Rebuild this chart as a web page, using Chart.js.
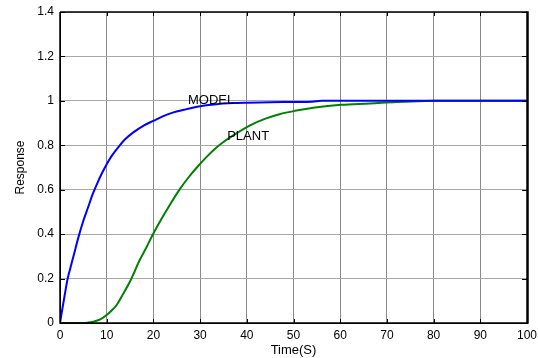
<!DOCTYPE html>
<html>
<head>
<meta charset="utf-8">
<script src="https://cdn.jsdelivr.net/npm/chart.js@4/dist/chart.umd.min.js"></script>
<style>
html,body{margin:0;padding:0;background:#fff;}
#wrap{width:538px;height:358px;position:relative;}
</style>
</head>
<body>
<div id="wrap"><canvas id="c" width="538" height="358"></canvas></div>
<script>
// ---- data ----
const modelTime  = [0, 1, 1.6, 2, 3, 4, 5, 6, 7, 8, 9, 10, 11, 12.8, 14, 15.7, 18, 20, 22, 24.3, 26.6, 28, 30, 33, 37, 40, 45, 54, 56, 100];
const modelValue = [0, 0.125, 0.196, 0.23, 0.31, 0.39, 0.46, 0.52, 0.58, 0.63, 0.675, 0.715, 0.75, 0.80, 0.828, 0.858, 0.89, 0.91, 0.93, 0.948, 0.96, 0.967, 0.976, 0.984, 0.99, 0.992, 0.994, 0.996, 1.0, 1.0];
const plantTime  = [0, 5, 6, 7.1, 8.5, 10, 11, 12.1, 13.5, 15.2, 17, 18.5, 19.8, 21.5, 23.6, 25.7, 27.5, 29.3, 31.5, 33.5, 35, 37.1, 40.7, 44, 47, 50.3, 54.6, 60.2, 66.4, 72, 78, 80, 100];
const plantValue = [0, 0, 0.002, 0.006, 0.015, 0.036, 0.055, 0.08, 0.13, 0.196, 0.28, 0.34, 0.395, 0.46, 0.535, 0.604, 0.655, 0.70, 0.75, 0.79, 0.815, 0.845, 0.89, 0.92, 0.94, 0.955, 0.97, 0.982, 0.988, 0.995, 0.999, 1.0, 1.0];
const xTickLabels = ['0', '10', '20', '30', '40', '50', '60', '70', '80', '90', '100'];
const yTickLabels = ['0', '0.2', '0.4', '0.6', '0.8', '1', '1.2', '1.4'];
const seriesNames = ['MODEL', 'PLANT'];
const xTitle = 'Time(S)';
const yTitle = 'Response';

// text label anchors (data coordinates)
const labelAnchors = [
  {text: seriesNames[0], x: 27.4, y: 1.0},
  {text: seriesNames[1], x: 35.8, y: 0.838}
];

const toPts = (xs, ys) => xs.map((x, i) => ({x: x, y: ys[i]}));

const frame = {
  id: 'frame',
  afterDatasetsDraw(chart) {
    const ctx = chart.ctx;
    const a = chart.chartArea;
    const xs = chart.scales.x, ys = chart.scales.y;
    ctx.save();
    ctx.strokeStyle = '#000';
    ctx.lineWidth = 1.5;
    ctx.beginPath(); ctx.moveTo(a.left, a.top); ctx.lineTo(a.right, a.top); ctx.stroke();
    ctx.beginPath(); ctx.moveTo(a.left, a.top); ctx.lineTo(a.left, a.bottom); ctx.lineTo(a.right, a.bottom); ctx.stroke();
    ctx.lineWidth = 2.5;
    ctx.beginPath(); ctx.moveTo(a.right + 0.5, a.top - 0.75); ctx.lineTo(a.right + 0.5, a.bottom + 0.75); ctx.stroke();
    ctx.lineWidth = 1;
    ctx.beginPath();
    xs.ticks.forEach(t => {
      const px = Math.round(xs.getPixelForValue(t.value)) + 0.5;
      ctx.moveTo(px, a.bottom); ctx.lineTo(px, a.bottom - 4);
      ctx.moveTo(px, a.top); ctx.lineTo(px, a.top + 4);
    });
    ys.ticks.forEach(t => {
      const py = Math.round(ys.getPixelForValue(t.value)) + 0.5;
      ctx.moveTo(a.left, py); ctx.lineTo(a.left + 5, py);
      ctx.moveTo(a.right, py); ctx.lineTo(a.right - 5, py);
    });
    ctx.stroke();
    ctx.fillStyle = '#000';
    ctx.font = '13px "Liberation Sans", Arial, sans-serif';
    ctx.textAlign = 'left';
    ctx.textBaseline = 'middle';
    labelAnchors.forEach(l => {
      ctx.fillText(l.text, xs.getPixelForValue(l.x), ys.getPixelForValue(l.y));
    });
    ctx.restore();
  }
};

const tickFont = {family: '"Liberation Sans", Arial, sans-serif', size: 12};

new Chart(document.getElementById('c'), {
  type: 'line',
  data: {
    datasets: [
      {label: seriesNames[0], data: toPts(modelTime, modelValue), borderColor: '#0000ff', borderWidth: 2, pointRadius: 0, cubicInterpolationMode: 'monotone', fill: false},
      {label: seriesNames[1], data: toPts(plantTime, plantValue), borderColor: '#008000', borderWidth: 2, pointRadius: 0, cubicInterpolationMode: 'monotone', fill: false}
    ]
  },
  options: {
    responsive: false,
    animation: false,
    devicePixelRatio: 1,
    layout: {padding: {left: 0, top: 12, right: 11, bottom: 0}},
    plugins: {legend: {display: false}, tooltip: {enabled: false}},
    scales: {
      x: {
        type: 'linear', min: 0, max: 100,
        ticks: {stepSize: 10, autoSkip: false, maxRotation: 0, color: '#000', font: tickFont, padding: 5,
          callback: (v, i) => xTickLabels[i]},
        grid: {color: '#8a8a8a', lineWidth: 1, drawTicks: false},
        border: {display: true, color: '#000', width: 1},
        title: {display: true, text: xTitle, color: '#000', font: {family: tickFont.family, size: 13}, padding: {top: 0, bottom: 0}},
        afterFit: s => { s.height = 35; s.paddingLeft = 0; s.paddingRight = 0; }
      },
      y: {
        type: 'linear', min: 0, max: 1.4,
        ticks: {stepSize: 0.2, autoSkip: false, color: '#000', font: tickFont, padding: 6,
          callback: (v, i) => yTickLabels[i]},
        grid: {color: '#a8a8a8', lineWidth: 1, drawTicks: false},
        border: {display: true, color: '#000', width: 1},
        title: {display: true, text: yTitle, color: '#000', font: {family: tickFont.family, size: 12}, padding: {top: 13, bottom: 0}},
        afterFit: s => { s.width = 60; s.paddingTop = 0; s.paddingBottom = 0; }
      }
    }
  },
  plugins: [frame]
});
</script>
</body>
</html>
